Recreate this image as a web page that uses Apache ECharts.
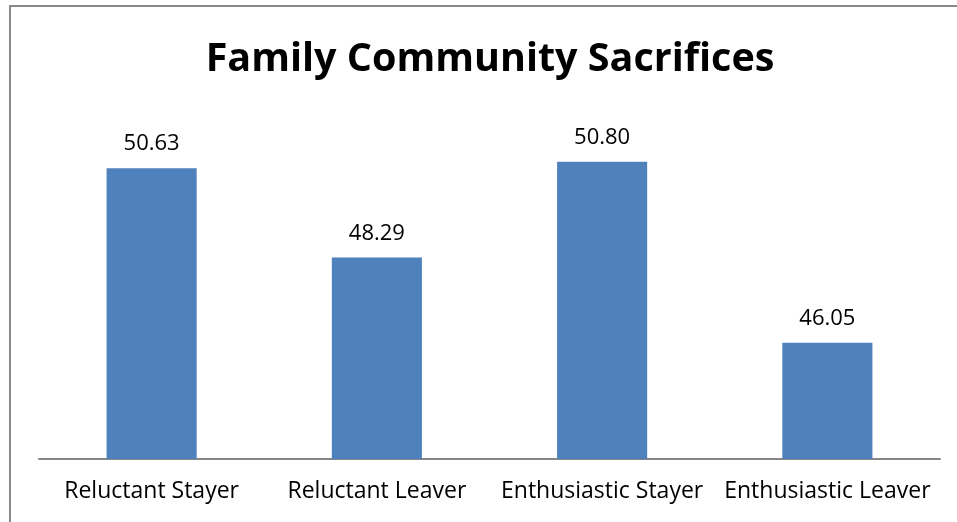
<!DOCTYPE html>
<html><head><meta charset="utf-8">
<script src="https://cdn.jsdelivr.net/npm/echarts@6/dist/echarts.min.js"></script>
<style>html,body{margin:0;padding:0;background:#fff}#c{width:957px;height:522px}</style>
</head><body><div id="c"></div>
<script>
const categories = ['Reluctant Stayer', 'Reluctant Leaver', 'Enthusiastic Stayer', 'Enthusiastic Leaver'];
const values = [50.63, 48.29, 50.80, 46.05];
const titleText = 'Family Community Sacrifices';

const chart = echarts.init(document.getElementById('c'), null, {renderer: 'canvas'});
chart.setOption({
  animation: false,
  backgroundColor: '#fff',
  graphic: [{
    type: 'rect', shape: {x: 10, y: 6, width: 1200, height: 1200},
    style: {fill: 'none', stroke: '#898989', lineWidth: 2}, silent: true
  }],
  title: {
    text: titleText, left: 485, top: 35, textAlign: 'center',
    textStyle: {fontFamily: 'Open Sans', fontWeight: 'bold', fontSize: 39.5, color: '#000'}
  },
  grid: {left: 39, right: 17, top: 116, bottom: 63},
  xAxis: {
    type: 'category', data: categories,
    axisLine: {lineStyle: {color: '#868686', width: 2}},
    axisTick: {show: false},
    axisLabel: {interval: 0, fontFamily: 'Open Sans', fontSize: 23, color: '#000', margin: 21}
  },
  yAxis: {type: 'value', min: 43, max: 52, show: false, splitLine: {show: false}},
  series: [{
    type: 'bar', data: values, barWidth: '40%',
    itemStyle: {color: '#4F81BD'},
    label: {show: true, position: 'top', distance: 13, fontFamily: 'Open Sans', fontSize: 22, color: '#000',
      formatter: p => p.value.toFixed(2)}
  }]
});
</script></body></html>
